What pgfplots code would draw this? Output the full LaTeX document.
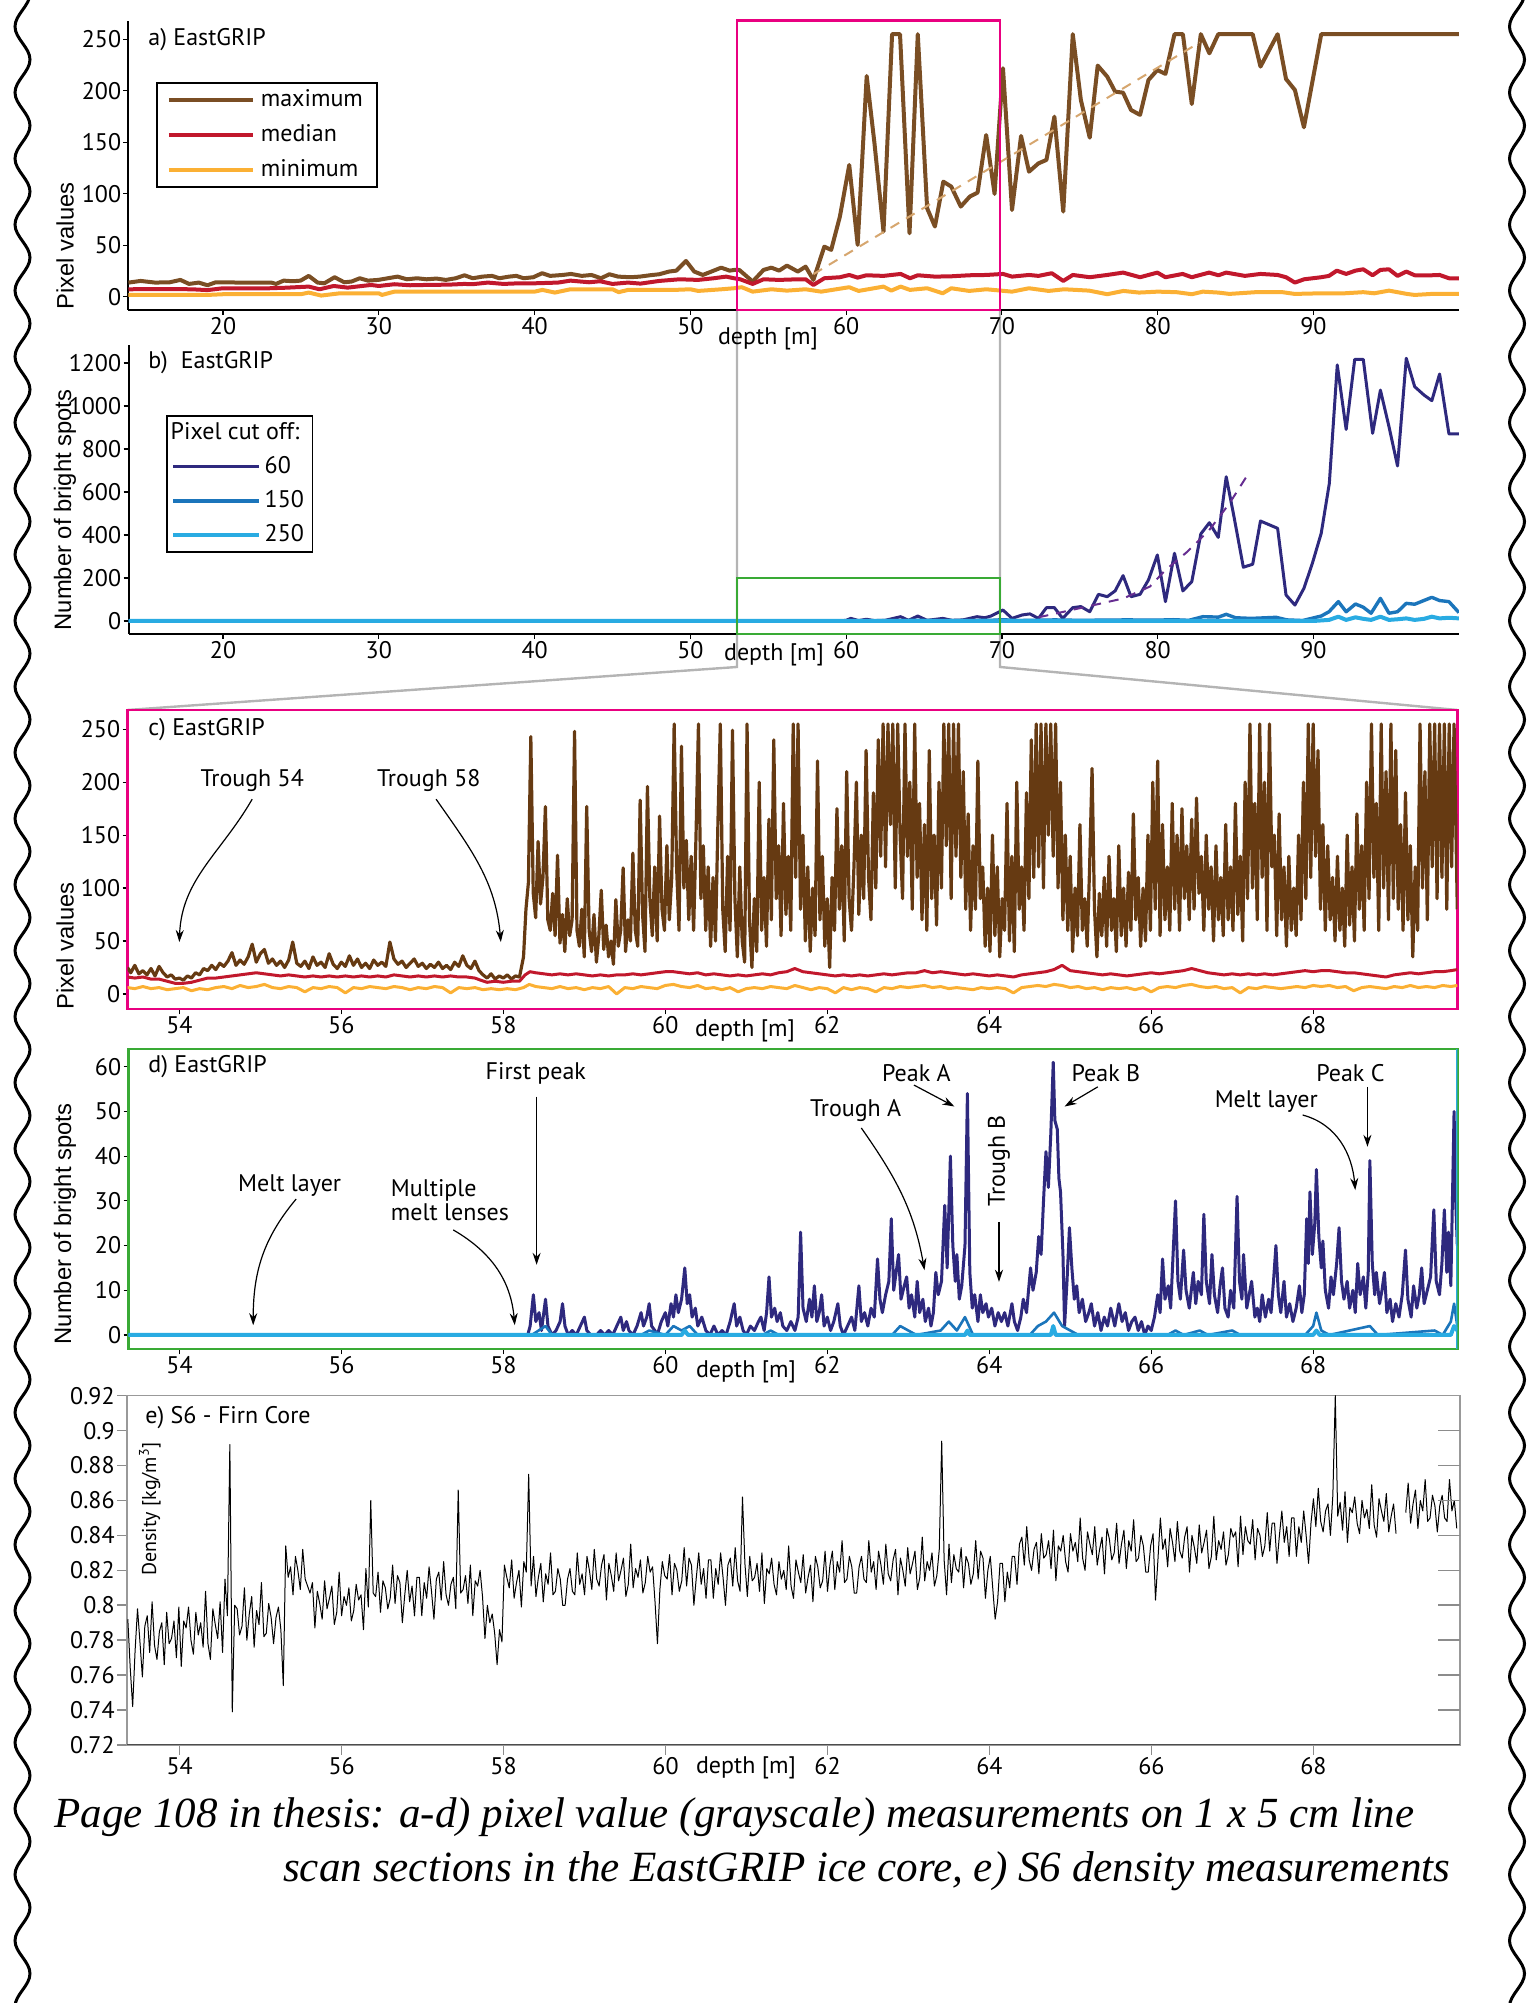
\documentclass[border=0pt]{standalone}
\usepackage{fontspec}
\setmainfont{PT Sans}
\newfontfamily\labfont{Liberation Sans}
\newfontfamily\capfont{Liberation Serif}
\usepackage{pgfplots}
\pgfplotsset{compat=1.18}
\usetikzlibrary{arrows.meta,decorations.pathmorphing}
\definecolor{maxA}{RGB}{122,78,36}
\definecolor{maxC}{RGB}{102,58,18}
\definecolor{medC}{RGB}{193,24,44}
\definecolor{minC}{RGB}{251,176,52}
\definecolor{trendA}{RGB}{214,166,110}
\definecolor{cA}{RGB}{46,41,126}
\definecolor{cB}{RGB}{27,117,187}
\definecolor{cC}{RGB}{41,171,226}
\definecolor{trendB}{RGB}{102,45,145}
\definecolor{pinkC}{RGB}{233,0,128}
\definecolor{greenC}{RGB}{57,170,53}
\definecolor{connG}{RGB}{180,180,180}
\newcommand\fs{\fontsize{12}{14}\selectfont}
\pgfplotsset{base/.style={scale only axis, tick align=outside, major tick length=2.5pt,
  tick style={black,line width=0.6pt}, tick label style={font=\fs},
  xticklabel style={inner sep=1pt}, yticklabel style={inner sep=1pt},
  /pgf/number format/assume math mode=true, /pgf/number format/1000 sep={},
  every axis plot/.append style={line join=round}}}
\tikzset{ann/.style={-{Stealth[length=6pt,width=4pt]}, line width=0.6pt}}
\begin{document}
\begin{tikzpicture}
\useasboundingbox (0,0) rectangle (764.5pt,1001.5pt);
% decorative wavy borders
\draw[line width=1.5pt, decorate, decoration={snake, amplitude=3.75pt, segment length=33pt}] (11.25pt,1015pt) -- (11.25pt,-15pt);
\draw[line width=1.5pt, decorate, decoration={snake, amplitude=3.75pt, segment length=33pt}] (758.5pt,1015pt) -- (758.5pt,-15pt);
% zoom connectors
\draw[connG, line width=1.2pt] (368.5pt,846.5pt) -- (368.5pt,668pt) -- (63.75pt,646.5pt);
\draw[connG, line width=1.2pt] (500pt,846.5pt) -- (500pt,668pt) -- (728.65pt,646.5pt);

% ---------------- panel a
\begin{axis}[base, at={(64.25pt,846.5pt)}, anchor=south west, width=665.2pt, height=144.65pt,
  xmin=13.93, xmax=99.34, ymin=-12.8, ymax=268.1,
  axis x line*=bottom, axis y line*=left, axis line style={line width=1pt,-},
  xtick={20,30,...,90}, ytick={0,50,...,250},
  legend style={at={(0.0207,0.788)}, anchor=north west, draw=black, line width=0.8pt, fill=white,
    inner xsep=5pt, inner ysep=1.5pt, row sep=3.5pt, column sep=1pt, font=\fs, cells={anchor=west},
    nodes={inner sep=2pt}},
  legend image code/.code={\draw[#1, line width=2pt] (0pt,0pt) -- (42pt,0pt);}]
\addplot[maxA, line width=2pt] coordinates {(13.93,13.8) (14.71,15.4) (15.64,13.8) (16.58,14.1) (17.26,16.4) (17.82,12.5) (18.44,13.8) (19.0,11.2) (19.53,14.1) (21.2,13.8) (23.1,13.8) (23.4,12.5) (23.89,15.7) (24.5,15.1) (24.98,15.7) (25.5,20.3) (26.07,13.8) (26.5,13.1) (27.16,19) (27.78,14.1) (28.25,14.8) (28.78,18) (29.3,15.7) (29.96,16.4) (30.58,18) (31.2,19.6) (31.8,17) (32.45,18) (33.07,17) (33.7,17.7) (34.3,16.4) (34.94,18) (35.5,20.9) (36.03,18) (36.65,19.6) (37.27,20.3) (37.74,18) (38.36,19.6) (38.83,20.3) (39.3,18) (39.92,19) (40.48,22.9) (41.0,20.3) (41.8,21.2) (42.34,22.2) (43.03,20.3) (43.65,21.2) (44.27,18) (44.8,21.9) (45.36,19.6) (46.14,19) (46.76,19.6) (47.4,20.9) (48.0,21.9) (48.63,24.5) (49.1,25.4) (49.72,34.8) (50.25,24.5) (50.8,21.2) (51.98,28.3) (52.52,25.4) (52.83,26.1) (53.14,26.1) (54.0,14.8) (54.7,26.1) (55.2,28.3) (55.7,25.4) (56.2,30.3) (56.9,24.5) (57.4,29.3) (57.9,16.4) (58.6,48.7) (59.04,45.5) (59.6,77.9) (60.2,128) (60.74,50.4) (61.32,214.4) (61.82,149) (62.4,63.3) (62.95,255) (63.46,255) (64.07,61.7) (64.6,255) (65.2,86) (65.7,68.2) (66.24,111.8) (66.75,107) (67.36,87.6) (67.94,97.3) (68.44,101.2) (68.99,157.1) (69.53,99.9) (70.07,221.9) (70.65,84.3) (71.23,156.2) (71.74,121.5) (72.35,129.6) (72.86,132.9) (73.37,174.9) (73.94,82.7) (74.55,255) (75.07,191.1) (75.64,154.5) (76.15,224.5) (76.76,213.8) (77.27,199.2) (77.78,198.2) (78.29,181.4) (78.87,176.6) (79.41,210.5) (79.98,220.2) (80.5,216.4) (81.08,255) (81.62,255) (82.19,187.2) (82.77,255) (83.32,236.4) (83.89,255) (86.1,255) (86.6,223.5) (87.7,255) (88.24,211.5) (88.81,200.8) (89.39,164.6) (90.5,255) (99.34,255)};
\addlegendentry{maximum}
\addplot[medC, line width=2pt] coordinates {(13.93,7.3) (16,7.5) (18,7.3) (19,6.5) (20,8.3) (23,8.3) (24,8.8) (25.5,9.9) (26.2,7.3) (27.1,10.5) (28,8.9) (29.5,11.5) (30,10.5) (31,12.2) (32,11.2) (33,11.5) (34.5,11.8) (35.5,12.5) (36,12.2) (37,13.8) (38,12.5) (39,13.1) (40,13.1) (41.5,13.8) (42.3,15.7) (43.5,14.1) (44.2,15.1) (45,12.5) (46,13.8) (46.8,12.8) (48,15.4) (49.3,17) (50.5,16.4) (51.5,18) (52.3,19.6) (52.8,18) (53.2,17) (54,12.5) (54.7,17) (55.7,16.4) (56.9,17) (57.4,17) (57.9,11.5) (58.6,18) (59.6,19) (60.2,21.2) (60.74,18.6) (61.3,20.9) (62.4,20.3) (63.5,22.2) (64.1,18) (64.6,20.9) (65.7,19.6) (66.75,19.9) (67.9,20.9) (69,21.2) (70.07,22.2) (70.65,19.6) (71.74,21.2) (72.35,20.3) (73.2,22.9) (73.94,15.4) (74.55,21.2) (75.64,19) (76.76,21.2) (77.78,23.5) (78.87,19) (79.98,23.5) (80.5,19) (81.6,22.2) (82.19,19) (83.3,23.5) (83.9,20.9) (84.4,23.5) (85.6,20.3) (86.6,22.2) (87.7,21.2) (88.24,19) (88.81,13.8) (89.4,17) (90.5,19) (91,20.3) (91.5,25.4) (92.1,22.2) (92.7,25.4) (93.2,26.7) (93.8,20.9) (94.3,26.1) (94.85,26.7) (95.4,20.3) (95.96,24.5) (96.5,20.9) (97.6,20.9) (98.1,21.2) (98.7,18) (99.34,18)};
\addlegendentry{median}
\addplot[minC, line width=2pt] coordinates {(13.93,1.8) (19,1.8) (20,2.5) (25,2.5) (25.5,4.1) (26.3,1.2) (27.5,3.4) (30,3.4) (30.2,1.8) (31,5) (35,5) (40,5) (40.5,6.7) (41.3,4.1) (42.3,7.3) (45,7.3) (45.4,4.5) (46,6.7) (49,6.7) (50,7.3) (50.5,5.7) (52,7.3) (52.8,8.3) (53.3,9.3) (54,5) (55.2,7.3) (56.2,6) (57.4,7.3) (58.4,5) (60.2,9.3) (60.8,5.7) (62.4,9.9) (62.9,6) (63.5,9.9) (64.1,6.7) (65.2,8.3) (66.2,3.4) (66.75,8.3) (67.9,5.7) (69,7.3) (70.65,5) (71.74,8.3) (73,5.7) (74,7.3) (75.6,6) (76.76,2.5) (77.8,5.7) (78.8,4.1) (80,5) (81.2,4.5) (82.2,2.5) (82.9,5) (83.9,4.1) (84.6,2.8) (86.3,4.5) (88,4.5) (88.8,2.8) (90.5,3.4) (92,3.4) (93.2,4.5) (93.9,3.4) (94.85,6) (96,2.8) (96.5,1.8) (97.6,2.8) (99.34,2.8)};
\addlegendentry{minimum}
\addplot[trendA, line width=1pt, dash pattern=on 5pt off 4pt, forget plot] coordinates {(57.9,22) (82.7,247)};
\end{axis}
\draw[pinkC, line width=1.2pt] (368.5pt,846.5pt) rectangle (500pt,991.15pt);

% ---------------- panel b
\begin{axis}[base, at={(64.25pt,684.5pt)}, anchor=south west, width=665.2pt, height=144.5pt,
  xmin=13.93, xmax=99.34, ymin=-60.5, ymax=1284,
  axis x line*=bottom, axis y line*=left, axis line style={line width=1pt,-},
  xtick={20,30,...,90}, ytick={0,200,...,1200},
  legend style={at={(0.0282,0.758)}, anchor=north west, draw=black, line width=0.8pt, fill=white,
    inner xsep=2.25pt, inner ysep=1.5pt, row sep=3pt, font=\fs, cells={anchor=west},
    nodes={inner sep=2pt}},
  legend image code/.code={\draw[#1, line width=1.7pt] (0pt,0pt) -- (43pt,0pt);}]
\addlegendimage{empty legend}\addlegendentry{\hspace*{-47pt}Pixel cut off:}
\addplot[cA, line width=1.5pt] coordinates {(13.93,0) (59.5,0) (60.0,3) (60.3,12) (60.8,2) (61.3,8) (61.8,2) (62.5,3) (63.5,20) (64.0,3) (64.6,23) (65.2,3) (66.2,12) (66.8,3) (67.5,5) (68.4,20) (68.9,15) (69.3,23) (70.07,51) (70.65,12) (71.3,28) (71.8,33) (72.35,12) (72.86,62) (73.37,62) (73.9,12) (74.55,62) (75.07,67) (75.64,43) (76.2,124) (76.76,113) (77.27,140) (77.78,211) (78.29,113) (78.87,124) (79.41,191) (79.98,307) (80.5,90) (81.08,315) (81.62,140) (82.19,183) (82.77,405) (83.32,457) (83.89,389) (84.4,671) (84.9,485) (85.5,250) (86.1,264) (86.6,465) (87.7,431) (88.24,121) (88.81,74) (89.39,152) (89.93,268) (90.5,408) (91.02,640) (91.53,1191) (92.1,891) (92.65,1217) (93.2,1217) (93.8,873) (94.3,1074) (94.85,904) (95.4,721) (95.96,1222) (96.5,1090) (97.1,1051) (97.6,1025) (98.1,1149) (98.7,870) (99.34,870)};
\addlegendentry{60}
\addplot[cB, line width=1.7pt] coordinates {(13.93,0) (60,0) (63.5,2) (64.6,3) (66,1) (69.3,3) (70.07,6) (71,2) (73.4,5) (75,3) (78,5) (80,4) (81,6) (82,3) (82.9,20) (83.9,18) (84.4,31) (85,15) (86,12) (87.6,17) (88.3,5) (89.3,2) (90.5,23) (91,43) (91.6,90) (92.1,43) (92.7,79) (93.2,64) (93.7,36) (94.3,105) (94.85,36) (95.4,43) (95.96,82) (96.5,78) (97.6,110) (98.1,95) (98.7,90) (99.34,39)};
\addlegendentry{150}
\addplot[cC, line width=2pt] coordinates {(13.93,0) (90,0) (91,5) (91.6,20) (92.1,5) (92.7,17) (93.2,10) (93.7,5) (94.3,20) (94.85,5) (95.4,8) (95.96,12) (96.5,5) (97.1,10) (97.6,20) (98.1,12) (98.7,15) (99.34,12)};
\addlegendentry{250}
\addplot[trendB, line width=1pt, dash pattern=on 5pt off 4pt, forget plot] coordinates {(72.35,17) (76.4,82) (77.8,105) (79.5,160) (80.5,237) (81.9,322) (83.3,422) (84.6,546) (85.9,694)};
\end{axis}
\draw[greenC, line width=1pt] (368.5pt,684.5pt) rectangle (500pt,712.35pt);

% ---------------- panel c
\begin{axis}[base, at={(63.75pt,496.85pt)}, anchor=south west, width=664.9pt, height=149.65pt,
  xmin=53.36, xmax=69.78, ymin=-14.5, ymax=268.2, tick pos=left,
  axis line style={pinkC, line width=1.2pt},
  xtick={54,56,...,68}, ytick={0,50,...,250}]
\addplot[maxC, line width=1.6pt] table {
x y
53.36 25
53.40 20
53.45 27
53.50 19
53.55 22
53.60 18
53.65 24
53.70 17
53.75 26
53.80 20
53.85 16
53.90 18
53.95 14
54.00 15
54.05 13
54.10 17
54.15 15
54.20 20
54.25 18
54.30 24
54.35 22
54.40 27
54.45 23
54.50 29
54.55 26
54.60 31
54.65 39
54.70 27
54.75 32
54.80 28
54.85 35
54.90 47
54.95 30
55.00 38
55.05 42
55.10 29
55.15 33
55.20 27
55.25 31
55.30 25
55.35 32
55.40 49
55.45 29
55.50 26
55.55 31
55.60 24
55.65 35
55.70 27
55.75 30
55.80 25
55.85 38
55.90 28
55.95 24
56.00 30
56.05 26
56.10 36
56.15 27
56.20 33
56.25 25
56.30 29
56.35 24
56.40 32
56.45 27
56.50 30
56.55 26
56.60 49
56.65 33
56.70 28
56.75 31
56.80 25
56.85 29
56.90 33
56.95 26
57.00 29
57.05 24
57.10 28
57.15 25
57.20 30
57.25 24
57.30 27
57.35 23
57.40 30
57.45 26
57.50 36
57.55 27
57.60 24
57.65 31
57.70 22
57.75 18
57.80 15
57.85 19
57.90 14
57.95 17
58.00 15
58.05 18
58.10 14
58.15 17
58.20 16
58.25 35
58.28 80
58.31 105
58.34 243
58.37 95
58.40 72
58.43 144
58.46 85
58.49 110
58.52 177
58.55 70
58.58 60
58.61 95
58.64 55
58.67 131
58.70 48
58.73 75
58.76 40
58.79 90
58.82 55
58.85 70
58.88 248
58.91 60
58.94 45
58.97 80
59.00 35
59.03 177
59.06 60
59.09 40
59.12 75
59.15 30
59.18 55
59.21 98
59.24 42
59.27 65
59.30 35
59.33 50
59.36 28
59.39 89
59.42 45
59.45 60
59.48 119
59.51 40
59.54 70
59.57 50
59.60 133
59.63 60
59.66 45
59.69 183
59.72 75
59.75 40
59.78 196
59.81 90
59.84 55
59.87 120
59.90 50
59.93 168
59.96 80
59.99 60
60.02 140
60.05 70
60.08 110
60.11 255
60.14 120
60.17 60
60.20 234
60.23 100
60.26 145
60.29 70
60.32 130
60.35 60
60.38 150
60.41 255
60.44 90
60.47 140
60.50 60
60.53 120
60.56 45
60.59 110
60.62 50
60.65 160
60.68 255
60.71 80
60.74 40
60.77 130
60.80 60
60.83 249
60.86 90
60.89 35
60.92 120
60.95 50
60.98 30
61.01 255
61.04 70
61.07 25
61.10 90
61.13 40
61.16 200
61.19 60
61.22 110
61.25 45
61.28 165
61.31 70
61.34 240
61.37 90
61.40 140
61.43 55
61.46 180
61.49 75
61.52 130
61.55 60
61.58 255
61.61 110
61.64 255
61.67 80
61.70 150
61.73 50
61.76 120
61.79 40
61.82 100
61.85 55
61.88 220
61.91 70
61.94 130
61.97 45
62.00 90
62.03 25
62.06 110
62.09 60
62.12 175
62.15 80
62.18 140
62.21 50
62.24 210
62.27 90
62.30 60
62.33 120
62.36 200
62.39 75
62.42 150
62.45 90
62.48 230
62.51 110
62.54 70
62.57 190
62.60 100
62.63 240
62.66 130
62.69 255
62.72 120
62.75 255
62.78 160
62.81 255
62.84 100
62.87 255
62.90 150
62.93 90
62.96 255
62.99 130
63.02 200
63.05 80
63.08 255
63.11 110
63.14 180
63.17 70
63.20 160
63.23 60
63.26 230
63.29 90
63.32 150
63.35 65
63.38 200
63.41 100
63.44 255
63.47 140
63.50 255
63.53 90
63.56 255
63.59 130
63.62 255
63.65 110
63.68 210
63.71 80
63.74 170
63.77 60
63.80 140
63.83 80
63.86 220
63.89 90
63.92 120
63.95 45
63.98 100
64.01 40
64.04 150
64.07 55
64.10 120
64.13 35
64.16 90
64.19 60
64.22 180
64.25 50
64.28 130
64.31 40
64.34 200
64.37 80
64.40 120
64.43 60
64.46 190
64.49 90
64.52 240
64.55 110
64.58 255
64.61 120
64.64 255
64.67 100
64.70 255
64.73 150
64.76 255
64.79 130
64.82 255
64.85 100
64.88 200
64.91 70
64.94 150
64.97 60
65.00 130
65.03 40
65.06 100
65.09 55
65.12 160
65.15 60
65.18 90
65.21 45
65.24 120
65.27 213
65.30 80
65.33 35
65.36 95
65.39 55
65.42 110
65.45 45
65.48 130
65.51 60
65.54 90
65.57 40
65.60 140
65.63 55
65.66 100
65.69 45
65.72 115
65.75 60
65.78 170
65.81 70
65.84 110
65.87 45
65.90 100
65.93 50
65.96 150
65.99 60
66.02 200
66.05 80
66.08 220
66.11 55
66.14 160
66.17 70
66.20 120
66.23 60
66.26 180
66.29 80
66.32 150
66.35 60
66.38 175
66.41 90
66.44 140
66.47 70
66.50 165
66.53 80
66.56 185
66.59 95
66.62 130
66.65 60
66.68 150
66.71 80
66.74 120
66.77 50
66.80 140
66.83 70
66.86 110
66.89 55
66.92 160
66.95 70
66.98 120
67.01 60
67.04 180
67.07 75
67.10 130
67.13 50
67.16 200
67.19 90
67.22 255
67.25 100
67.28 180
67.31 70
67.34 255
67.37 110
67.40 200
67.43 60
67.46 255
67.49 120
67.52 150
67.55 55
67.58 170
67.61 70
67.64 120
67.67 45
67.70 130
67.73 60
67.76 100
67.79 55
67.82 150
67.85 70
67.88 200
67.91 90
67.94 255
67.97 110
68.00 255
68.03 130
68.06 230
68.09 80
68.12 160
68.15 60
68.18 140
68.21 70
68.24 110
68.27 50
68.30 130
68.33 60
68.36 100
68.39 45
68.42 150
68.45 65
68.48 120
68.51 50
68.54 170
68.57 80
68.60 140
68.63 60
68.66 200
68.69 90
68.72 255
68.75 110
68.78 180
68.81 60
68.84 255
68.87 100
68.90 210
68.93 70
68.96 255
68.99 90
69.02 230
69.05 80
69.08 160
69.11 60
69.14 190
69.17 70
69.20 140
69.23 35
69.26 120
69.29 60
69.32 255
69.35 100
69.38 210
69.41 70
69.44 255
69.47 120
69.50 255
69.53 90
69.56 255
69.59 110
69.62 255
69.65 80
69.68 255
69.71 120
69.74 255
69.78 80
};
\addplot[medC, line width=1.5pt] table {
x y
53.36 16
53.45 15
53.55 16
53.65 14
53.75 14
53.85 12
53.95 10
54.05 10
54.15 11
54.25 13
54.35 15
54.45 15
54.55 16
54.65 17
54.75 18
54.85 19
54.95 20
55.05 19
55.15 18
55.25 17
55.35 18
55.45 17
55.55 16
55.65 17
55.75 16
55.85 17
55.95 16
56.05 17
56.15 16
56.25 17
56.35 16
56.45 17
56.55 16
56.65 18
56.75 17
56.85 16
56.95 17
57.05 16
57.15 17
57.25 16
57.35 17
57.45 16
57.55 16
57.65 15
57.72 13
57.80 11
57.90 12
58.00 11
58.10 12
58.20 12
58.27 18
58.33 21
58.40 20
58.50 19
58.60 18
58.70 19
58.80 18
58.90 19
59.00 18
59.10 17
59.20 18
59.30 17
59.40 18
59.50 18
59.60 19
59.70 18
59.80 19
59.90 20
60.00 21
60.10 21
60.20 20
60.30 19
60.40 20
60.50 18
60.60 19
60.70 18
60.80 17
60.90 18
61.00 17
61.10 18
61.20 19
61.30 18
61.40 20
61.50 21
61.60 24
61.70 21
61.80 20
61.90 19
62.00 18
62.10 17
62.20 18
62.30 17
62.40 18
62.50 17
62.60 18
62.70 19
62.80 18
62.90 19
63.00 20
63.10 20
63.20 22
63.30 20
63.40 21
63.50 20
63.60 19
63.70 18
63.80 19
63.90 18
64.00 17
64.10 18
64.20 17
64.30 16
64.40 18
64.50 19
64.60 20
64.70 21
64.80 23
64.90 27
65.00 22
65.10 21
65.20 20
65.30 19
65.40 18
65.50 19
65.60 18
65.70 17
65.80 18
65.90 19
66.00 20
66.10 19
66.20 20
66.30 21
66.40 22
66.50 24
66.60 22
66.70 20
66.80 19
66.90 18
67.00 19
67.10 18
67.20 19
67.30 18
67.40 19
67.50 18
67.60 19
67.70 20
67.80 21
67.90 22
68.00 21
68.10 22
68.20 22
68.30 21
68.40 20
68.50 20
68.60 19
68.70 18
68.80 17
68.90 16
69.00 18
69.10 19
69.20 20
69.30 19
69.40 20
69.50 21
69.60 21
69.70 22
69.78 23
};
\addplot[minC, line width=1.5pt] table {
x y
53.36 6
53.45 5
53.55 7
53.65 5
53.75 6
53.85 4
53.95 5
54.05 6
54.15 3
54.25 5
54.35 4
54.45 6
54.55 7
54.65 5
54.75 8
54.85 6
54.95 7
55.05 9
55.15 6
55.25 5
55.35 7
55.45 6
55.55 2
55.65 6
55.75 5
55.85 7
55.95 6
56.05 1
56.15 6
56.25 5
56.35 7
56.45 6
56.55 5
56.65 7
56.75 6
56.85 4
56.95 6
57.05 5
57.15 7
57.25 6
57.35 1
57.45 6
57.55 5
57.65 6
57.75 4
57.85 5
57.95 4
58.05 5
58.15 4
58.25 6
58.32 9
58.40 7
58.50 6
58.60 5
58.70 7
58.80 5
58.90 6
59.00 4
59.10 6
59.20 5
59.30 7
59.40 0
59.50 6
59.60 5
59.70 7
59.80 6
59.90 5
60.00 8
60.10 9
60.20 7
60.30 6
60.40 8
60.50 5
60.60 6
60.70 4
60.80 6
60.90 2
61.00 5
61.10 6
61.20 5
61.30 7
61.40 6
61.50 5
61.60 8
61.70 6
61.80 4
61.90 6
62.00 5
62.10 1
62.20 6
62.30 4
62.40 6
62.50 5
62.60 2
62.70 6
62.80 5
62.90 7
63.00 6
63.10 7
63.20 8
63.30 6
63.40 7
63.50 5
63.60 6
63.70 5
63.80 4
63.90 6
64.00 5
64.10 6
64.20 5
64.30 1
64.40 6
64.50 7
64.60 8
64.70 7
64.80 9
64.90 8
65.00 6
65.10 7
65.20 5
65.30 6
65.40 4
65.50 6
65.60 5
65.70 6
65.80 4
65.90 6
66.00 2
66.10 6
66.20 7
66.30 6
66.40 8
66.50 9
66.60 7
66.70 6
66.80 7
66.90 5
67.00 6
67.10 1
67.20 6
67.30 5
67.40 7
67.50 6
67.60 5
67.70 6
67.80 7
67.90 6
68.00 8
68.10 7
68.20 8
68.30 6
68.40 7
68.50 3
68.60 6
68.70 7
68.80 6
68.90 5
69.00 7
69.10 6
69.20 8
69.30 6
69.40 7
69.50 6
69.60 8
69.70 7
69.78 8
};
\node[font=\fs] at (axis cs:54.9,202) {Trough 54};
\node[font=\fs] at (axis cs:57.08,202) {Trough 58};
\draw[ann] (axis cs:54.9,184) to[out=-120,in=88] (axis cs:54.0,49);
\draw[ann] (axis cs:57.17,184) to[out=-55,in=95] (axis cs:57.97,49);
\end{axis}

% ---------------- panel d
\begin{axis}[base, at={(64.25pt,326.85pt)}, anchor=south west, width=664.4pt, height=150pt,
  xmin=53.37, xmax=69.78, ymin=-3.2, ymax=63.9, tick pos=left,
  axis line style={greenC, line width=1.2pt},
  xtick={54,56,...,68}, ytick={0,10,...,60}]
\addplot[cA, line width=1.5pt] table {
x y
53.37 0
58.30 0
58.33 2
58.37 9
58.40 3
58.44 5
58.47 1
58.52 8
58.55 2
58.60 0
58.65 1
58.70 3
58.73 7
58.76 2
58.80 0
58.85 1
58.90 0
58.95 2
59.00 4
59.03 1
59.08 0
59.15 0
59.20 1
59.25 0
59.30 1
59.35 0
59.40 2
59.45 4
59.48 1
59.52 3
59.55 1
59.60 0
59.65 2
59.70 5
59.73 2
59.77 4
59.80 7
59.83 2
59.87 1
59.90 0
59.95 3
60.00 5
60.03 2
60.07 7
60.10 4
60.13 9
60.16 5
60.20 8
60.24 15
60.27 7
60.30 9
60.33 4
60.37 6
60.40 2
60.45 4
60.50 1
60.55 0
60.60 2
60.65 0
60.70 1
60.75 0
60.80 3
60.85 7
60.88 2
60.92 4
60.96 1
61.00 0
61.05 2
61.10 1
61.15 3
61.18 4
61.22 1
61.25 5
61.28 13
61.31 4
61.35 6
61.38 3
61.42 5
61.45 2
61.50 1
61.55 3
61.60 1
61.64 4
61.67 23
61.70 6
61.74 3
61.78 8
61.81 4
61.84 11
61.87 3
61.90 5
61.93 9
61.96 2
62.00 4
62.04 1
62.08 3
62.13 7
62.16 2
62.20 0
62.25 2
62.30 4
62.34 1
62.39 11
62.42 3
62.46 5
62.50 2
62.54 6
62.58 4
62.62 17
62.65 8
62.68 5
62.72 9
62.76 12
62.79 26
62.82 10
62.85 14
62.88 18
62.91 8
62.95 11
62.98 13
63.01 6
63.04 9
63.08 4
63.11 12
63.14 5
63.18 8
63.21 3
63.25 6
63.28 2
63.31 5
63.34 14
63.37 9
63.41 12
63.45 29
63.48 15
63.52 40
63.55 20
63.58 12
63.60 18
63.63 8
63.66 11
63.70 20
63.73 54
63.76 14
63.79 6
63.82 9
63.86 3
63.89 9
63.92 5
63.96 7
63.99 4
64.03 6
64.07 2
64.11 5
64.15 3
64.19 5
64.23 2
64.28 7
64.31 3
64.35 1
64.39 4
64.42 8
64.46 5
64.49 11
64.51 15
64.54 10
64.58 14
64.61 22
64.64 18
64.67 30
64.70 41
64.73 33
64.76 45
64.79 61
64.81 48
64.84 46
64.86 35
64.88 32
64.91 18
64.93 2
64.96 12
64.99 24
65.02 15
65.05 8
65.08 11
65.11 5
65.15 8
65.19 3
65.23 5
65.26 7
65.30 2
65.34 5
65.38 1
65.42 4
65.46 2
65.50 6
65.55 2
65.60 7
65.64 3
65.68 5
65.72 1
65.76 3
65.80 4
65.84 1
65.88 3
65.92 0
65.96 2
66.00 1
66.04 4
66.08 9
66.11 5
66.14 17
66.17 8
66.21 11
66.24 6
66.27 18
66.30 30
66.33 12
66.36 8
66.40 19
66.43 10
66.47 6
66.52 14
66.55 7
66.58 12
66.62 9
66.65 27
66.68 12
66.72 7
66.75 18
66.78 9
66.82 5
66.85 11
66.88 15
66.91 6
66.95 4
66.98 10
67.02 6
67.06 31
67.09 12
67.12 8
67.14 18
67.18 6
67.21 9
67.24 12
67.28 4
67.31 6
67.34 3
67.37 9
67.41 4
67.45 8
67.48 5
67.51 12
67.54 20
67.57 9
67.60 5
67.64 12
67.67 4
67.71 7
67.75 3
67.79 6
67.83 11
67.86 5
67.89 9
67.92 26
67.94 16
67.96 32
67.99 18
68.02 25
68.04 37
68.07 22
68.10 15
68.12 21
68.15 10
68.19 6
68.22 13
68.25 9
68.29 16
68.32 24
68.35 12
68.38 8
68.42 12
68.45 6
68.49 10
68.52 5
68.55 16
68.58 9
68.62 13
68.65 6
68.68 14
68.70 39
68.73 16
68.76 9
68.78 14
68.82 7
68.85 10
68.88 14
68.91 5
68.95 8
68.98 3
69.02 7
69.06 4
69.10 9
69.14 19
69.17 8
69.21 4
69.24 11
69.28 6
69.31 9
69.34 15
69.37 7
69.41 10
69.45 13
69.49 28
69.52 12
69.56 9
69.59 16
69.62 28
69.65 14
69.67 23
69.70 11
69.74 50
69.76 30
69.78 20
};
\addplot[cB, line width=1.3pt] coordinates {(53.37,0) (58.35,0) (58.52,2) (58.6,0) (59.7,0) (59.8,1) (60.0,0) (60.1,2) (60.2,1) (60.3,2) (60.4,0) (61.2,0) (61.3,1) (61.4,0) (62.8,0) (62.9,2) (63.0,1) (63.1,0) (63.4,1) (63.5,3) (63.6,1) (63.7,4) (63.8,0) (64.5,0) (64.6,2) (64.7,3) (64.8,5) (64.9,2) (65.0,1) (65.1,0) (66.2,0) (66.3,1) (66.4,0) (66.6,1) (66.7,0) (67.0,1) (67.1,0) (67.9,0) (68.0,2) (68.04,5) (68.1,1) (68.2,0) (68.7,2) (68.8,0) (69.5,1) (69.6,0) (69.7,3) (69.74,7) (69.78,2)};
\addplot[cC, line width=2pt] coordinates {(53.37,0) (60.2,0) (60.24,1) (60.28,0) (63.7,0) (63.73,1) (63.76,0) (64.76,0) (64.79,2) (64.82,0) (68.0,0) (68.04,1) (68.08,0) (69.7,0) (69.74,2) (69.78,1)};
\draw[cC, line width=1.2pt] (rel axis cs:1,0) -- (rel axis cs:1,1);
\node[font=\fs] at (axis cs:55.36,33.4) {Melt layer};
\draw[ann] (axis cs:55.44,30.4) to[out=-130,in=90] (axis cs:54.91,2.2);
\node[font=\fs, align=left, text depth=0pt] at (axis cs:57.34,30.1) {Multiple\\[-2pt]melt lenses};
\draw[ann] (axis cs:57.38,23.5) to[out=-30,in=95] (axis cs:58.14,2.2);
\node[font=\fs] at (axis cs:58.40,58.6) {First peak};
\draw[ann] (axis cs:58.41,53.3) -- (axis cs:58.41,15.7);
\node[font=\fs] at (axis cs:62.35,50.3) {Trough A};
\draw[ann] (axis cs:62.42,46.3) to[out=-55,in=100] (axis cs:63.2,14.5);
\node[font=\fs] at (axis cs:63.10,58.6) {Peak A};
\draw[ann] (axis cs:63.07,55.9) -- (axis cs:63.57,51.1);
\node[font=\fs, rotate=90] at (axis cs:64.12,39.0) {Trough B};
\draw[ann] (axis cs:64.12,25.3) -- (axis cs:64.12,11.9);
\node[font=\fs] at (axis cs:65.44,58.6) {Peak B};
\draw[ann] (axis cs:65.34,55.5) -- (axis cs:64.93,51.1);
\node[font=\fs] at (axis cs:68.46,58.6) {Peak C};
\draw[ann] (axis cs:68.67,55.5) -- (axis cs:68.67,42.1);
\node[font=\fs] at (axis cs:67.42,52.2) {Melt layer};
\draw[ann] (axis cs:67.87,49.2) to[out=-15,in=95] (axis cs:68.52,32.4);
\end{axis}

% ---------------- panel e
\begin{axis}[base, at={(63.5pt,129pt)}, anchor=south west, width=666.5pt, height=174.65pt,
  xmin=53.35, xmax=69.81, ymin=0.72, ymax=0.92, tick pos=left,
  axis line style={black!40, line width=0.8pt}, major tick length=5pt,
  tick style={black!45, line width=0.8pt}, unbounded coords=jump,
  xtick={54,56,...,68}, ytick={0.72,0.74,0.76,0.78,0.8,0.82,0.84,0.86,0.88,0.9,0.92},
  yticklabel style={/pgf/number format/fixed, /pgf/number format/precision=2}]
\addplot[black, line width=0.5pt] table {
x y
53.36 0.792
53.39 0.764
53.42 0.742
53.45 0.774
53.48 0.798
53.51 0.779
53.54 0.759
53.57 0.788
53.60 0.794
53.63 0.773
53.66 0.802
53.69 0.777
53.72 0.769
53.75 0.785
53.78 0.790
53.81 0.766
53.84 0.796
53.87 0.778
53.90 0.781
53.93 0.791
53.96 0.770
53.99 0.799
54.02 0.765
54.05 0.791
54.08 0.787
54.11 0.799
54.14 0.780
54.17 0.772
54.20 0.796
54.23 0.783
54.26 0.790
54.29 0.776
54.32 0.808
54.35 0.778
54.38 0.769
54.41 0.798
54.44 0.789
54.47 0.781
54.50 0.802
54.53 0.773
54.56 0.815
54.59 0.794
54.62 0.892
54.65 0.739
54.68 0.800
54.71 0.798
54.74 0.783
54.77 0.788
54.80 0.810
54.83 0.780
54.86 0.795
54.89 0.805
54.92 0.776
54.95 0.797
54.98 0.789
55.01 0.813
55.04 0.782
55.07 0.784
55.10 0.801
55.13 0.793
55.16 0.778
55.19 0.793
55.22 0.799
55.25 0.786
55.28 0.754
55.31 0.834
55.34 0.816
55.37 0.822
55.40 0.806
55.43 0.828
55.46 0.820
55.49 0.809
55.52 0.832
55.55 0.815
55.58 0.811
55.61 0.807
55.64 0.813
55.67 0.787
55.70 0.808
55.73 0.801
55.76 0.792
55.79 0.814
55.82 0.798
55.85 0.804
55.88 0.811
55.91 0.789
55.94 0.796
55.97 0.819
56.00 0.794
56.03 0.805
56.06 0.800
56.09 0.810
56.12 0.791
56.15 0.797
56.18 0.812
56.21 0.803
56.24 0.806
56.27 0.786
56.30 0.821
56.33 0.799
56.36 0.860
56.39 0.807
56.42 0.805
56.45 0.819
56.48 0.796
56.51 0.814
56.54 0.810
56.57 0.798
56.60 0.804
56.63 0.823
56.66 0.801
56.69 0.817
56.72 0.813
56.75 0.790
56.78 0.806
56.81 0.820
56.84 0.802
56.87 0.811
56.90 0.794
56.93 0.816
56.96 0.816
56.99 0.794
57.02 0.813
57.05 0.804
57.08 0.822
57.11 0.808
57.14 0.792
57.17 0.815
57.20 0.819
57.23 0.803
57.26 0.825
57.29 0.806
57.32 0.800
57.35 0.812
57.38 0.816
57.41 0.798
57.44 0.866
57.47 0.807
57.50 0.809
57.53 0.817
57.56 0.801
57.59 0.823
57.62 0.794
57.65 0.814
57.68 0.811
57.71 0.820
57.74 0.805
57.77 0.781
57.80 0.800
57.83 0.790
57.86 0.795
57.89 0.784
57.92 0.766
57.95 0.786
57.98 0.779
58.01 0.823
58.04 0.816
58.07 0.810
58.10 0.826
58.13 0.804
58.16 0.813
58.19 0.820
58.22 0.799
58.25 0.825
58.28 0.819
58.31 0.875
58.34 0.811
58.37 0.828
58.40 0.805
58.43 0.816
58.46 0.824
58.49 0.802
58.52 0.818
58.55 0.812
58.58 0.830
58.61 0.806
58.64 0.808
58.67 0.821
58.70 0.815
58.73 0.800
58.76 0.800
58.79 0.815
58.82 0.821
58.85 0.808
58.88 0.806
58.91 0.830
58.94 0.812
58.97 0.818
59.00 0.806
59.03 0.828
59.06 0.820
59.09 0.809
59.12 0.832
59.15 0.815
59.18 0.811
59.21 0.823
59.24 0.829
59.27 0.803
59.30 0.824
59.33 0.817
59.36 0.808
59.39 0.830
59.42 0.814
59.45 0.820
59.48 0.827
59.51 0.805
59.54 0.812
59.57 0.835
59.60 0.810
59.63 0.821
59.66 0.816
59.69 0.826
59.72 0.807
59.75 0.813
59.78 0.828
59.81 0.819
59.84 0.822
59.87 0.802
59.90 0.778
59.93 0.809
59.96 0.825
59.99 0.817
60.02 0.815
60.05 0.829
60.08 0.806
60.11 0.824
60.14 0.820
60.17 0.808
60.20 0.814
60.23 0.833
60.26 0.811
60.29 0.827
60.32 0.823
60.35 0.800
60.38 0.816
60.41 0.830
60.44 0.812
60.47 0.821
60.50 0.804
60.53 0.826
60.56 0.826
60.59 0.804
60.62 0.821
60.65 0.812
60.68 0.830
60.71 0.816
60.74 0.800
60.77 0.823
60.80 0.827
60.83 0.811
60.86 0.833
60.89 0.814
60.92 0.808
60.95 0.862
60.98 0.824
61.01 0.805
61.04 0.828
61.07 0.814
61.10 0.816
61.13 0.824
61.16 0.808
61.19 0.830
61.22 0.801
61.25 0.821
61.28 0.818
61.31 0.827
61.34 0.812
61.37 0.806
61.40 0.825
61.43 0.815
61.46 0.820
61.49 0.809
61.52 0.834
61.55 0.811
61.58 0.804
61.61 0.826
61.64 0.819
61.67 0.813
61.70 0.829
61.73 0.807
61.76 0.816
61.79 0.823
61.82 0.802
61.85 0.828
61.88 0.822
61.91 0.810
61.94 0.814
61.97 0.831
62.00 0.808
62.03 0.823
62.06 0.831
62.09 0.809
62.12 0.825
62.15 0.819
62.18 0.837
62.21 0.813
62.24 0.815
62.27 0.828
62.30 0.822
62.33 0.807
62.36 0.807
62.39 0.822
62.42 0.828
62.45 0.815
62.48 0.813
62.51 0.837
62.54 0.819
62.57 0.825
62.60 0.809
62.63 0.831
62.66 0.823
62.69 0.812
62.72 0.835
62.75 0.818
62.78 0.814
62.81 0.826
62.84 0.832
62.87 0.806
62.90 0.827
62.93 0.820
62.96 0.811
62.99 0.833
63.02 0.818
63.05 0.824
63.08 0.831
63.11 0.809
63.14 0.816
63.17 0.839
63.20 0.814
63.23 0.825
63.26 0.820
63.29 0.830
63.32 0.811
63.35 0.817
63.38 0.832
63.41 0.894
63.44 0.826
63.47 0.806
63.50 0.835
63.53 0.813
63.56 0.829
63.59 0.821
63.62 0.819
63.65 0.833
63.68 0.810
63.71 0.828
63.74 0.824
63.77 0.812
63.80 0.818
63.83 0.837
63.86 0.815
63.89 0.831
63.92 0.827
63.95 0.804
63.98 0.820
64.01 0.828
64.04 0.810
64.07 0.792
64.10 0.802
64.13 0.824
64.16 0.824
64.19 0.802
64.22 0.819
64.25 0.810
64.28 0.828
64.31 0.828
64.34 0.812
64.37 0.835
64.40 0.839
64.43 0.823
64.46 0.845
64.49 0.826
64.52 0.820
64.55 0.832
64.58 0.836
64.61 0.818
64.64 0.841
64.67 0.827
64.70 0.829
64.73 0.837
64.76 0.821
64.79 0.843
64.82 0.814
64.85 0.834
64.88 0.831
64.91 0.840
64.94 0.825
64.97 0.819
65.00 0.841
65.03 0.831
65.06 0.836
65.09 0.825
65.12 0.850
65.15 0.827
65.18 0.820
65.21 0.842
65.24 0.835
65.27 0.829
65.30 0.845
65.33 0.823
65.36 0.832
65.39 0.839
65.42 0.818
65.45 0.844
65.48 0.838
65.51 0.826
65.54 0.830
65.57 0.847
65.60 0.824
65.63 0.835
65.66 0.843
65.69 0.821
65.72 0.837
65.75 0.831
65.78 0.849
65.81 0.825
65.84 0.827
65.87 0.840
65.90 0.834
65.93 0.819
65.96 0.819
65.99 0.834
66.02 0.841
66.05 0.803
66.08 0.826
66.11 0.850
66.14 0.832
66.17 0.838
66.20 0.822
66.23 0.844
66.26 0.836
66.29 0.825
66.32 0.848
66.35 0.831
66.38 0.827
66.41 0.839
66.44 0.845
66.47 0.819
66.50 0.840
66.53 0.833
66.56 0.824
66.59 0.846
66.62 0.830
66.65 0.836
66.68 0.843
66.71 0.821
66.74 0.828
66.77 0.851
66.80 0.826
66.83 0.837
66.86 0.832
66.89 0.842
66.92 0.823
66.95 0.829
66.98 0.844
67.01 0.839
67.04 0.842
67.07 0.822
67.10 0.851
67.13 0.829
67.16 0.845
67.19 0.837
67.22 0.835
67.25 0.849
67.28 0.826
67.31 0.844
67.34 0.840
67.37 0.828
67.40 0.834
67.43 0.853
67.46 0.831
67.49 0.847
67.52 0.847
67.55 0.824
67.58 0.840
67.61 0.854
67.64 0.836
67.67 0.845
67.70 0.828
67.73 0.850
67.76 0.850
67.79 0.828
67.82 0.845
67.85 0.836
67.88 0.854
67.91 0.840
67.94 0.824
67.97 0.847
68.00 0.861
68.03 0.845
68.06 0.867
68.09 0.848
68.12 0.842
68.15 0.854
68.18 0.858
68.21 0.840
68.24 0.863
68.27 0.920
68.30 0.851
68.33 0.859
68.36 0.843
68.39 0.865
68.42 0.836
68.45 0.856
68.48 0.853
68.51 0.862
68.54 0.847
68.57 0.841
68.60 0.860
68.63 0.850
68.66 0.855
68.69 0.844
68.72 0.869
68.75 0.846
68.78 0.839
68.81 0.861
68.84 0.854
68.87 0.848
68.90 0.864
68.93 0.842
68.96 0.851
68.99 0.858
69.02 0.841
69.05 nan
69.14 0.853
69.17 0.870
69.20 0.847
69.23 0.858
69.26 0.866
69.29 0.844
69.32 0.860
69.35 0.854
69.38 0.872
69.41 0.848
69.44 0.850
69.47 0.863
69.50 0.857
69.53 0.842
69.56 0.857
69.59 0.863
69.62 0.850
69.65 0.848
69.68 0.872
69.71 0.854
69.74 0.860
69.77 0.844
};
\draw[black!70, line width=1pt] (rel axis cs:0,0) -- (rel axis cs:1,0);
\end{axis}
\begin{axis}[at={(63.5pt,129pt)}, anchor=south west, scale only axis, width=666.5pt, height=174.65pt,
  xmin=53.35, xmax=69.81, ymin=0.72, ymax=0.92, axis line style={draw=none},
  xtick=\empty, ytick={0.74,0.76,0.78,0.8,0.82,0.84,0.86,0.88,0.9}, yticklabels={},
  ytick pos=right, tick align=inside, major tick length=11pt, tick style={black!45, line width=0.8pt}]
\addplot[draw=none] coordinates {(60,0.8)};
\end{axis}

% titles
\node[font=\fs, anchor=west, inner sep=0pt] at (74pt,981.5pt) {a)\ EastGRIP};
\node[font=\fs, anchor=west, inner sep=0pt] at (74pt,820pt) {b)\ \ EastGRIP};
\node[font=\fs, anchor=west, inner sep=0pt] at (74pt,636.5pt) {c)\ EastGRIP};
\node[font=\fs, anchor=west, inner sep=0pt] at (74pt,468pt) {d)\ EastGRIP};
\node[font=\fs, anchor=west, inner sep=0pt] at (72.5pt,292.5pt) {e)\ S6 - Firn Core};
% y labels
\node[font=\labfont\fontsize{11.9}{13}\selectfont, rotate=90] at (32.5pt,878.5pt) {Pixel values};
\node[font=\labfont\fontsize{11.9}{13}\selectfont, rotate=90] at (32.5pt,746.5pt) {Number of bright spots};
\node[font=\labfont\fontsize{11.9}{13}\selectfont, rotate=90] at (32.5pt,528.5pt) {Pixel values};
\node[font=\labfont\fontsize{11.9}{13}\selectfont, rotate=90] at (32.5pt,389.5pt) {Number of bright spots};
\node[font=\fontsize{10}{12}\selectfont, rotate=90] at (75pt,247pt) {Density [kg/m\textsuperscript{3}]};
% x labels
\node[font=\fs] at (384pt,832.25pt) {depth [m]};
\node[font=\fs] at (387pt,674pt) {depth [m]};
\node[font=\fs] at (372.5pt,486pt) {depth [m]};
\node[font=\fs] at (373pt,315.5pt) {depth [m]};
\node[font=\fs] at (373pt,117.5pt) {depth [m]};
% caption
\node[anchor=base west, inner sep=0pt] at (27pt,87.5pt) {\resizebox{680pt}{!}{\capfont\itshape\fontsize{20}{24}\selectfont Page 108 in thesis: a-d) pixel value (grayscale) measurements on 1 x 5 cm line}};
\node[anchor=base west, inner sep=0pt] at (141.4pt,60.5pt) {\resizebox{583.5pt}{!}{\capfont\itshape\fontsize{20}{24}\selectfont scan sections in the EastGRIP ice core, e) S6 density measurements}};
\end{tikzpicture}
\end{document}
